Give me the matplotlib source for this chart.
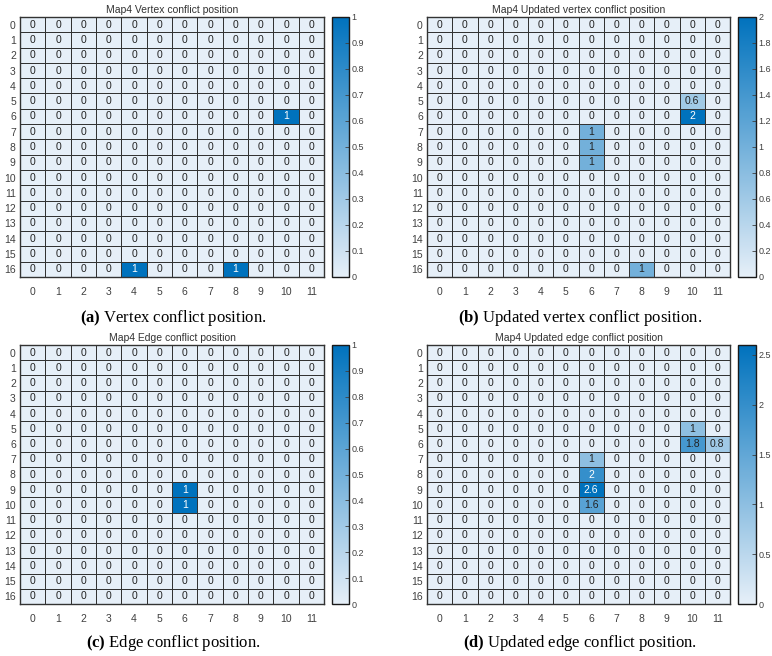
import numpy as np
import matplotlib
matplotlib.use('Agg')
import matplotlib.pyplot as plt
from matplotlib.colors import LinearSegmentedColormap

plt.rcParams['font.family'] = ['Liberation Sans', 'DejaVu Sans']
plt.rcParams['mathtext.fontset'] = 'custom'
plt.rcParams['mathtext.bf'] = 'Liberation Serif:bold'
plt.rcParams['mathtext.rm'] = 'Liberation Serif'

n_rows = 17
n_cols = 12
row_labels = [str(i) for i in range(n_rows)]
col_labels = [str(j) for j in range(n_cols)]

# non-zero cells: (row, col, value)
vertex_cells = [(6, 10, 1), (16, 4, 1), (16, 8, 1)]
vertex_upd_cells = [(5, 10, 0.6), (6, 10, 2), (7, 6, 1), (8, 6, 1), (9, 6, 1), (16, 8, 1)]
edge_cells = [(9, 6, 1), (10, 6, 1)]
edge_upd_cells = [(5, 10, 1), (6, 10, 1.8), (6, 11, 0.8), (7, 6, 1), (8, 6, 2),
                  (9, 6, 2.6), (10, 6, 1.6)]

titles = ['Map4 Vertex conflict position', 'Map4 Updated vertex conflict position',
          'Map4 Edge conflict position', 'Map4 Updated edge conflict position']
captions = [r'$\mathbf{(a)}$ Vertex conflict position.',
            r'$\mathbf{(b)}$ Updated vertex conflict position.',
            r'$\mathbf{(c)}$ Edge conflict position.',
            r'$\mathbf{(d)}$ Updated edge conflict position.']
cbar_ticks = [np.arange(0, 1.01, 0.1), np.arange(0, 2.01, 0.2),
              np.arange(0, 1.01, 0.1), np.arange(0, 2.51, 0.5)]

cmap = LinearSegmentedColormap.from_list('mblue', ['#E6EFF8', '#0072BD'])

W, H = 772, 656
fig = plt.figure(figsize=(W / 100, H / 100), dpi=100)

def px(x0, x1, y0, y1):
    return [x0 / W, 1 - y1 / H, (x1 - x0) / W, (y1 - y0) / H]

# pixel boxes: heatmap x0, x1, cbar x0, x1, y0, y1, caption x, caption y
layout = [(20, 324, 332, 349, 17, 277, 173, 318),
          (427, 730, 738, 756, 17, 277, 580, 318),
          (20, 324, 332, 349, 345, 604, 173, 643),
          (427, 730, 738, 756, 345, 604, 580, 643)]

def fmt(v):
    return ('%g' % round(v, 2))

for k, cells in enumerate([vertex_cells, vertex_upd_cells, edge_cells, edge_upd_cells]):
    data = np.zeros((n_rows, n_cols))
    for r, c, v in cells:
        data[r, c] = v
    vmax = data.max()
    hx0, hx1, cx0, cx1, y0, y1, capx, capy = layout[k]

    ax = fig.add_axes(px(hx0, hx1, y0, y1))
    mesh = ax.pcolormesh(data, cmap=cmap, vmin=0, vmax=vmax,
                         edgecolors='#333333', linewidth=0.7)
    ax.set_xlim(0, n_cols)
    ax.set_ylim(n_rows, 0)
    ax.set_xticks(np.arange(n_cols) + 0.5)
    ax.set_xticklabels(col_labels)
    ax.set_yticks(np.arange(n_rows) + 0.5)
    ax.set_yticklabels(row_labels)
    ax.tick_params(length=0, labelsize=7.5, colors='#404040', pad=3)
    ax.tick_params(axis='x', pad=7)
    for s in ax.spines.values():
        s.set_color('#333333')
        s.set_linewidth(1.0)
    ax.set_title(titles[k], fontsize=7.5, color='#333333', pad=3)

    for i in range(n_rows):
        for j in range(n_cols):
            v = data[i, j]
            col = 'white' if v / vmax > 0.72 else '#222222'
            ax.text(j + 0.5, i + 0.5, fmt(v), ha='center', va='center',
                    fontsize=7.5, color=col)

    cax = fig.add_axes(px(cx0, cx1, y0, y1))
    cb = fig.colorbar(mesh, cax=cax, ticks=cbar_ticks[k])
    cb.ax.set_yticklabels([fmt(t) for t in cbar_ticks[k]])
    cb.ax.tick_params(labelsize=6.5, colors='#404040', direction='in', length=3, width=0.6, pad=2)
    cb.outline.set_linewidth(1.0)
    cb.outline.set_edgecolor('#1a1a1a')

    fig.text(capx / W, 1 - capy / H, captions[k], ha='center', va='center',
             fontsize=12, family='Liberation Serif')

fig.savefig('out.png', dpi=100)
